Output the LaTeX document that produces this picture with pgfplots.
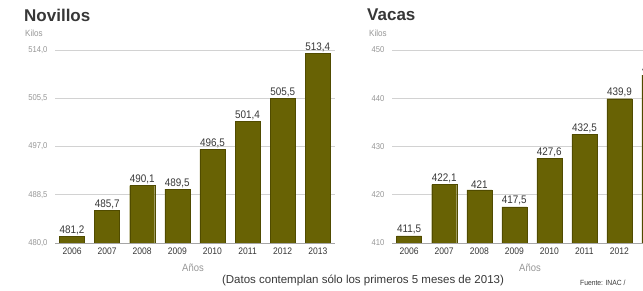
\documentclass[border=0pt]{standalone}
\usepackage{pgfplots}
\pgfplotsset{compat=1.18}
\usepackage{fontspec}
\setmainfont{Liberation Sans}[FakeStretch=0.9]
\newfontfamily\titlefont{Liberation Sans}
\definecolor{barc}{RGB}{104,98,4}
\definecolor{bard}{RGB}{80,75,0}
\definecolor{txt}{RGB}{55,55,55}
\definecolor{lab}{RGB}{150,150,150}
\pgfplotsset{
  mybars/.style={
    scale only axis,
    ybar, bar width=25pt,
    axis x line*=bottom, axis y line*=left,
    x axis line style={draw=gray!70, line width=0.8pt},
    y axis line style={draw=none},
    ymajorgrids, grid style={draw=gray!35, line width=0.8pt},
    major tick length=0pt,
    xtick={0,...,7}, xticklabels={2006,2007,2008,2009,2010,2011,2012,2013},
    xticklabel style={font=\fontsize{9.5}{10}\selectfont, text=txt, yshift=-1pt},
    yticklabel style={font=\fontsize{8.5}{9}\selectfont, text=lab, xshift=-4pt},
    nodes near coords,
    nodes near coords style={font=\fontsize{11}{12}\selectfont, text=txt, yshift=-2pt},
    /pgf/number format/.cd, use comma, 1000 sep={}, assume math mode=true,
  }
}
\begin{document}
\begin{tikzpicture}
\useasboundingbox (0pt,0pt) rectangle (643pt,291pt);
\clip (0pt,0pt) rectangle (643pt,291pt);
% Left: Novillos
\begin{axis}[mybars, at={(55pt,48pt)}, anchor=south west, width=280pt, height=193pt,
  xmin=-0.485, xmax=7.49, ymin=480, ymax=514,
  ytick={480,488.5,497,505.5,514},
  yticklabel style={/pgf/number format/.cd, fixed, fixed zerofill, precision=1, use comma, assume math mode=true},
  nodes near coords style={/pgf/number format/.cd, fixed, precision=1, use comma, assume math mode=true},
]
\addplot[fill=barc, draw=bard] coordinates {(0,481.2) (1,485.7) (2,490.1) (3,489.5) (4,496.5) (5,501.4) (6,505.5) (7,513.4)};
\end{axis}
% Right: Vacas
\begin{axis}[mybars, at={(392pt,48pt)}, anchor=south west, width=280pt, height=193pt,
  xmin=-0.49, xmax=7.5, ymin=410, ymax=450,
  ytick={410,420,430,440,450},
  yticklabel style={/pgf/number format/.cd, fixed, precision=1, use comma, assume math mode=true},
  nodes near coords style={/pgf/number format/.cd, fixed, precision=1, use comma, assume math mode=true},
]
\addplot[fill=barc, draw=bard] coordinates {(0,411.5) (1,422.1) (2,421) (3,417.5) (4,427.6) (5,432.5) (6,439.9) (7,444.8)};
\end{axis}
\node[anchor=west, text=txt, font=\titlefont\fontsize{17}{18}\selectfont\bfseries, inner sep=0pt] at (24pt,276pt) {Novillos};
\node[anchor=west, text=lab, font=\fontsize{9}{10}\selectfont, inner sep=0pt] at (25pt,258pt) {Kilos};
\node[anchor=west, text=txt, font=\titlefont\fontsize{17}{18}\selectfont\bfseries, inner sep=0pt] at (367pt,276pt) {Vacas};
\node[anchor=west, text=lab, font=\fontsize{9}{10}\selectfont, inner sep=0pt] at (369pt,258pt) {Kilos};
\node[text=lab, font=\fontsize{10.5}{11}\selectfont] at (193pt,23pt) {Años};
\node[text=lab, font=\fontsize{10.5}{11}\selectfont] at (530pt,23pt) {Años};
\node[text=txt, font=\titlefont\fontsize{11.5}{12}\selectfont] at (363pt,11pt) {(Datos contemplan sólo los primeros 5 meses de 2013)};
\node[anchor=west, text=txt, font=\fontsize{7.5}{8}\selectfont, inner sep=0pt] at (580pt,8pt) {Fuente: INAC /};
\end{tikzpicture}
\end{document}
